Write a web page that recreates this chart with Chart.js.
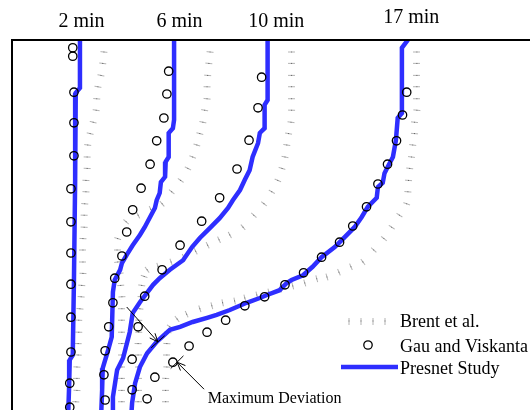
<!DOCTYPE html>
<html>
<head>
<meta charset="utf-8">
<script src="https://cdn.jsdelivr.net/npm/chart.js@4.4.1/dist/chart.umd.min.js"></script>
<style>
  html, body { margin: 0; padding: 0; background: #fff; overflow: hidden; }
  #wrap { position: absolute; left: 0; top: 0; width: 560px; height: 440px; }
</style>
</head>
<body>
<div id="wrap"><canvas id="front" width="560" height="440"></canvas></div>
<script>
// Melt front positions in the cavity: x from the hot wall, y up from the floor (mm)
const timeLabels = ['2 min', '6 min', '10 min', '17 min'];
const timeLabelX = [11.75, 28.1, 44.25, 66.75];

// Brent et al.
const brent2x = [15.5,15.3,15.0,14.5,14.3,14.2,13.7,13.2,12.8,12.7,12.7,12.5,12.5,12.3,12.2,12.2,12.0,12.0,12.0,12.0,11.8,11.7,11.5,11.3,11.3,11.2,11.2,11.0,11.0,11.0,10.8,10.8];
const brent2y = [61.5,59.6,57.6,55.7,53.7,51.8,49.8,47.9,46.0,44.0,42.1,40.1,38.2,36.2,34.3,32.3,30.4,28.5,26.5,24.6,22.6,20.7,18.7,16.8,14.8,12.9,11.0,9.0,7.1,5.1,3.2,1.2];
const brent6x = [33.2,33.0,32.8,32.7,32.7,32.3,32.0,31.5,31.0,30.3,29.5,28.3,26.8,25.2,23.3,21.2,19.2,17.8,17.7,17.8,18.2,18.3,18.5,18.5,18.5,18.5,18.5,18.5,18.5,18.5,18.5,18.5,18.5];
const brent6y = [61.5,59.6,57.6,55.7,53.7,51.8,49.8,47.9,46.0,44.0,42.1,40.1,38.2,36.2,35.3,34.3,33.2,30.4,28.5,26.5,24.6,22.6,20.7,18.7,16.8,14.8,12.9,11.0,9.0,7.1,5.1,3.2,1.2];
const brent10x = [46.8,46.8,46.8,46.8,46.8,46.8,46.7,46.3,46.0,45.7,45.2,44.5,43.5,42.2,40.5,38.7,36.5,34.7,32.8,30.8,28.8,26.7,24.5,22.7,22.2,21.8,21.7,21.5,21.3,21.3,21.2,21.2,21.2,21.2,21.2,21.2,21.2];
const brent10y = [61.5,59.6,57.6,55.7,53.7,51.8,49.8,47.9,46.0,44.0,42.1,40.1,38.2,36.2,34.3,32.3,31.0,30.2,29.3,28.3,27.3,26.5,25.8,25.2,24.1,22.6,20.7,18.7,16.8,14.8,12.9,11.0,9.0,7.1,5.1,3.2,1.2];
const brent17x = [67.7,67.7,67.7,67.7,67.7,67.7,67.3,67.3,67.0,66.8,66.5,66.3,66.2,66.0,64.8,63.5,62.2,60.5,58.7,56.7,54.7,52.7,51.0,49.0,47.0,45.0,43.0,41.0,39.0,37.3,35.3,33.5,31.5,29.3,27.7,26.5,26.2,26.0,26.0,26.0,25.8,25.8,25.8,25.8];
const brent17y = [61.5,59.6,57.6,55.7,53.7,51.8,49.8,47.9,46.0,44.0,42.1,40.1,38.2,36.2,34.3,32.3,30.4,28.5,26.5,25.7,24.8,24.0,23.7,23.0,22.5,22.0,21.5,21.0,20.5,20.0,19.7,19.2,18.7,17.8,17.0,15.7,14.8,12.9,11.0,9.0,7.1,5.1,3.2,1.2];

// Gau and Viskanta (experiment)
const gau2x = [10.3,10.3,10.5,10.5,10.5,10.0,10.0,10.0,10.0,10.0,10.0,9.8,9.8];
const gau2y = [62.2,60.8,54.8,49.7,44.2,38.7,33.2,28.0,22.8,17.3,11.5,6.3,2.3];
const gau6x = [26.3,26.0,25.5,24.3,23.2,21.7,20.3,19.3,18.5,17.3,17.0,16.3,15.7,15.5,15.7];
const gau6y = [58.3,54.5,50.5,46.7,42.8,38.8,35.2,31.5,27.5,23.8,19.7,15.7,11.7,7.7,3.5];
const gau10x = [41.8,41.2,39.7,37.7,34.8,31.8,28.2,25.2,22.3,21.2,20.2,20.2];
const gau10y = [57.3,52.2,46.8,42.0,37.2,33.3,29.3,25.2,20.8,15.7,10.3,5.2];
const gau17x = [66.0,65.3,64.3,62.8,61.2,59.3,57.0,54.8,51.8,48.8,45.7,42.3,39.0,35.8,32.7,29.7,27.0,24.0,22.7];
const gau17y = [54.8,51.0,46.7,42.8,39.5,35.7,32.5,29.8,27.3,24.7,22.7,20.7,19.2,16.8,14.8,12.5,9.8,7.3,3.7];

// present study
const pres2x = [11.5,11.5,10.8,10.7,10.5,10.3,9.8,9.7,9.5];
const pres2y = [63.5,55.5,54.7,40.2,23.5,11.0,10.2,6.0,0];
const pres6x = [27.2,27.2,27.0,26.3,26.3,25.8,25.7,25.0,24.8,24.3,24.0,23.2,22.3,21.5,20.3,19.3,18.5,18.2,17.3,17.0,16.8,16.2,15.3,15.2,15.0];
const pres6y = [63.5,50.2,48.8,48.0,44.0,43.2,40.7,39.8,38.0,36.8,35.5,34.0,32.3,31.0,29.3,27.7,26.3,25.2,23.5,21.5,14.0,11.8,8.8,5.2,0];
const pres10x = [42.8,42.8,42.3,42.3,41.5,41.2,40.3,39.8,39.0,38.2,37.0,36.2,34.8,33.2,31.5,30.2,28.7,26.5,24.8,23.7,21.5,20.3,19.8,18.7,17.7,17.0,17.0];
const pres10y = [63.5,53.5,52.7,48.8,48.0,46.3,44.0,41.8,40.2,38.5,36.8,35.5,33.8,32.2,30.5,29.0,26.8,25.2,23.8,22.7,19.8,18.0,14.8,10.5,8.5,4.0,0];
const pres17x = [66.2,65.2,65.2,64.5,64.2,63.7,62.8,62.3,62.0,61.2,61.0,59.5,58.5,57.3,55.7,54.0,51.8,50.3,48.7,46.8,46.0,44.8,42.7,41.5,39.3,36.5,34.3,32.7,30.3,28.2,26.5,24.3,22.7,21.5,20.7,20.2,20.0];
const pres17y = [63.5,62.2,51.3,50.5,46.8,44.0,42.3,41.3,39.7,39.0,37.2,35.7,34.0,32.3,30.7,29.0,27.3,25.7,24.3,23.5,23.0,21.8,21.0,20.5,19.7,18.5,17.7,17.2,16.5,15.7,15.2,13.2,11.3,9.0,6.3,3.0,0];

// deviation markers: tail -> tip
const devArrows = [
  { from: [19.3, 19.0], to: [24.5, 13.2] },
  { from: [32.2, 5.3], to: [27.7, 9.8] },
];
const devLabel = 'Maximum Deviation';
const devLabelAt = [32.8, 3.0];

const BLUE = '#2e2eff';
const SERIF = "'Liberation Serif', 'DejaVu Serif', serif";

const pts = (xs, ys) => xs.map((v, i) => ({ x: v, y: ys[i] }));

// Brent marker: a faint dash with a darker centre dot
const tick = document.createElement('canvas');
tick.width = 7;
tick.height = 3;
{
  const t = tick.getContext('2d');
  t.fillStyle = '#b4b4b4';
  t.fillRect(0, 1, 7, 1);
  t.fillStyle = '#555';
  t.fillRect(3, 1, 1, 1);
}

// the dashes sit across the front, so turn them along its normal
function tickAngle(c) {
  const d = c.dataset.data;
  const i = c.dataIndex;
  const a = d[Math.max(i - 1, 0)];
  const b = d[Math.min(i + 1, d.length - 1)];
  return Math.atan2(-(b.y - a.y), b.x - a.x) * 180 / Math.PI + 90;
}

const brentSet = (xs, ys) => ({
  label: 'Brent et al.',
  data: pts(xs, ys),
  showLine: false,
  pointStyle: tick,
  pointRadius: 3,
  pointRotation: tickAngle,
  order: 3,
});

const gauSet = (xs, ys) => ({
  label: 'Gau and Viskanta',
  data: pts(xs, ys),
  showLine: false,
  pointStyle: 'circle',
  pointRadius: 4.2,
  pointBorderWidth: 1.3,
  pointBorderColor: '#000',
  pointBackgroundColor: 'rgba(0,0,0,0)',
  order: 1,
});

const presSet = (xs, ys) => ({
  label: 'Presnet Study',
  data: pts(xs, ys),
  showLine: true,
  borderColor: BLUE,
  borderWidth: 4.5,
  pointRadius: 0,
  tension: 0,
  order: 2,
});

const notes = {
  id: 'notes',
  afterDraw(chart) {
    const { ctx, chartArea: a, scales: { x, y } } = chart;
    ctx.save();

    // cavity walls
    ctx.strokeStyle = '#000';
    ctx.lineWidth = 2;
    ctx.strokeRect(a.left + 1, a.top, a.right - a.left, a.bottom - a.top);

    // time stamps over each front
    ctx.fillStyle = '#000';
    ctx.font = '20px ' + SERIF;
    ctx.textAlign = 'center';
    ctx.textBaseline = 'alphabetic';
    timeLabels.forEach((t, i) => {
      ctx.fillText(t, x.getPixelForValue(timeLabelX[i]), i === 3 ? 23 : 27);
    });

    // deviation arrows with a bar across the tip
    ctx.lineWidth = 1;
    devArrows.forEach(({ from, to }) => {
      const x0 = x.getPixelForValue(from[0]), y0 = y.getPixelForValue(from[1]);
      const x1 = x.getPixelForValue(to[0]), y1 = y.getPixelForValue(to[1]);
      const ang = Math.atan2(y1 - y0, x1 - x0);
      ctx.beginPath();
      ctx.moveTo(x0, y0);
      ctx.lineTo(x1, y1);
      for (const s of [-1, 1]) {
        ctx.moveTo(x1, y1);
        ctx.lineTo(x1 - 9 * Math.cos(ang + s * 0.4), y1 - 9 * Math.sin(ang + s * 0.4));
      }
      const px = -Math.sin(ang), py = Math.cos(ang);
      ctx.moveTo(x1 - 9 * px, y1 - 9 * py);
      ctx.lineTo(x1 + 9 * px, y1 + 9 * py);
      ctx.stroke();
    });
    ctx.font = '16px ' + SERIF;
    ctx.textAlign = 'left';
    ctx.fillText(devLabel, x.getPixelForValue(devLabelAt[0]), y.getPixelForValue(devLabelAt[1]));

    // legend
    ctx.font = '18px ' + SERIF;
    ctx.fillText('Brent et al.', 400, 327);
    ctx.fillText('Gau and Viskanta', 400, 352);
    ctx.fillText('Presnet Study', 400, 374);
    [349, 361, 373, 385].forEach(lx => {
      ctx.save();
      ctx.translate(lx, 321);
      ctx.rotate(Math.PI / 2);
      ctx.drawImage(tick, -3.5, -1.5);
      ctx.restore();
    });
    ctx.strokeStyle = '#000';
    ctx.lineWidth = 1.3;
    ctx.beginPath();
    ctx.arc(368, 345, 4.2, 0, Math.PI * 2);
    ctx.stroke();
    ctx.strokeStyle = BLUE;
    ctx.lineWidth = 4.5;
    ctx.beginPath();
    ctx.moveTo(341, 367);
    ctx.lineTo(398, 367);
    ctx.stroke();

    ctx.restore();
  }
};

new Chart(document.getElementById('front'), {
  type: 'scatter',
  data: {
    datasets: [
      brentSet(brent2x, brent2y), brentSet(brent6x, brent6y),
      brentSet(brent10x, brent10y), brentSet(brent17x, brent17y),
      presSet(pres2x, pres2y), presSet(pres6x, pres6y),
      presSet(pres10x, pres10y), presSet(pres17x, pres17y),
      gauSet(gau2x, gau2y), gauSet(gau6x, gau6y),
      gauSet(gau10x, gau10y), gauSet(gau17x, gau17y),
    ],
  },
  options: {
    responsive: false,
    animation: false,
    layout: { padding: { left: 11, top: 40, right: 16, bottom: 19 } },
    plugins: { legend: { display: false }, tooltip: { enabled: false } },
    scales: {
      x: { type: 'linear', min: 0, max: 88.9, display: false },
      y: { type: 'linear', min: 0, max: 63.5, display: false },
    },
  },
  plugins: [notes],
});
</script>
</body>
</html>
